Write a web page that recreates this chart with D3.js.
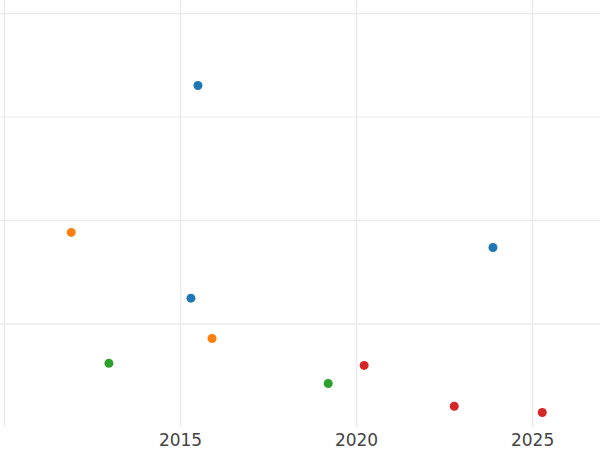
<!DOCTYPE html>
<html>
<head>
<meta charset="utf-8">
<script src="https://cdn.jsdelivr.net/npm/d3@7"></script>
<style>
  body { margin: 0; background: #fff; }
  .grid line { stroke: #ebebeb; }
  .grid path { display: none; }
  .xaxis text { font-family: "DejaVu Sans", sans-serif; font-size: 17px; fill: #444; }
  .xaxis path, .xaxis line { display: none; }
</style>
</head>
<body>
<div class="chart"></div>
<script>
// point data, one group per colour
var groups = ["a", "b", "c", "d"];
var colors = ["#1f77b4", "#ff7f0e", "#2ca02c", "#d62728"];
var xValues = [
  [2015.51, 2023.89, 2015.31],
  [2011.91, 2015.91],
  [2012.98, 2019.21],
  [2020.23, 2022.79, 2025.29]
];
var yValues = [
  [3.30, 1.735, 1.245],
  [1.88, 0.855],
  [0.615, 0.42],
  [0.595, 0.20, 0.14]
];
var xTicks = [2010, 2015, 2020, 2025];
var xTickLabels = ["", "2015", "2020", "2025"];
var yTicks = [1, 2, 3, 4];

var svgWidth = 600;
var svgHeight = 450;

var margin = { top: 0, bottom: 23, right: 0, left: 0 };
var height = svgHeight - margin.top - margin.bottom;
var width = svgWidth - margin.left - margin.right;

var svg = d3
  .select(".chart")
  .append("svg")
  .attr("height", svgHeight)
  .attr("width", svgWidth);

var chartGroup = svg
  .append("g")
  .attr("transform", `translate(${margin.left}, ${margin.top})`);

// scales
var xScale = d3.scaleLinear().domain([2009.886, 2026.93]).range([0, width]);
var yScale = d3.scaleLinear().domain([0, 4.126]).range([height, 0]);

// gridlines
chartGroup
  .append("g")
  .attr("class", "grid")
  .attr("transform", `translate(0, ${height})`)
  .call(d3.axisBottom(xScale).tickValues(xTicks).tickSize(-height).tickFormat(""))
  .selectAll("line")
  .attr("stroke-width", 1.5);

chartGroup
  .append("g")
  .attr("class", "grid")
  .call(d3.axisLeft(yScale).tickValues(yTicks).tickSize(-width).tickFormat(""))
  .selectAll("line")
  .attr("stroke-width", (d) => (d === 3 ? 1 : 1.5));

// x axis labels
chartGroup
  .append("g")
  .attr("class", "xaxis")
  .attr("transform", `translate(0, ${height})`)
  .call(d3.axisBottom(xScale).tickValues(xTicks).tickSize(0).tickPadding(7)
    .tickFormat((d, i) => xTickLabels[i]));

// points
var points = [];
groups.forEach(function (g, i) {
  xValues[i].forEach(function (x, j) {
    points.push({ x: x, y: yValues[i][j], color: colors[i] });
  });
});

chartGroup
  .selectAll("circle")
  .data(points)
  .enter()
  .append("circle")
  .attr("cx", (d) => xScale(d.x))
  .attr("cy", (d) => yScale(d.y))
  .attr("r", 4.5)
  .attr("fill", (d) => d.color);
</script>
</body>
</html>
